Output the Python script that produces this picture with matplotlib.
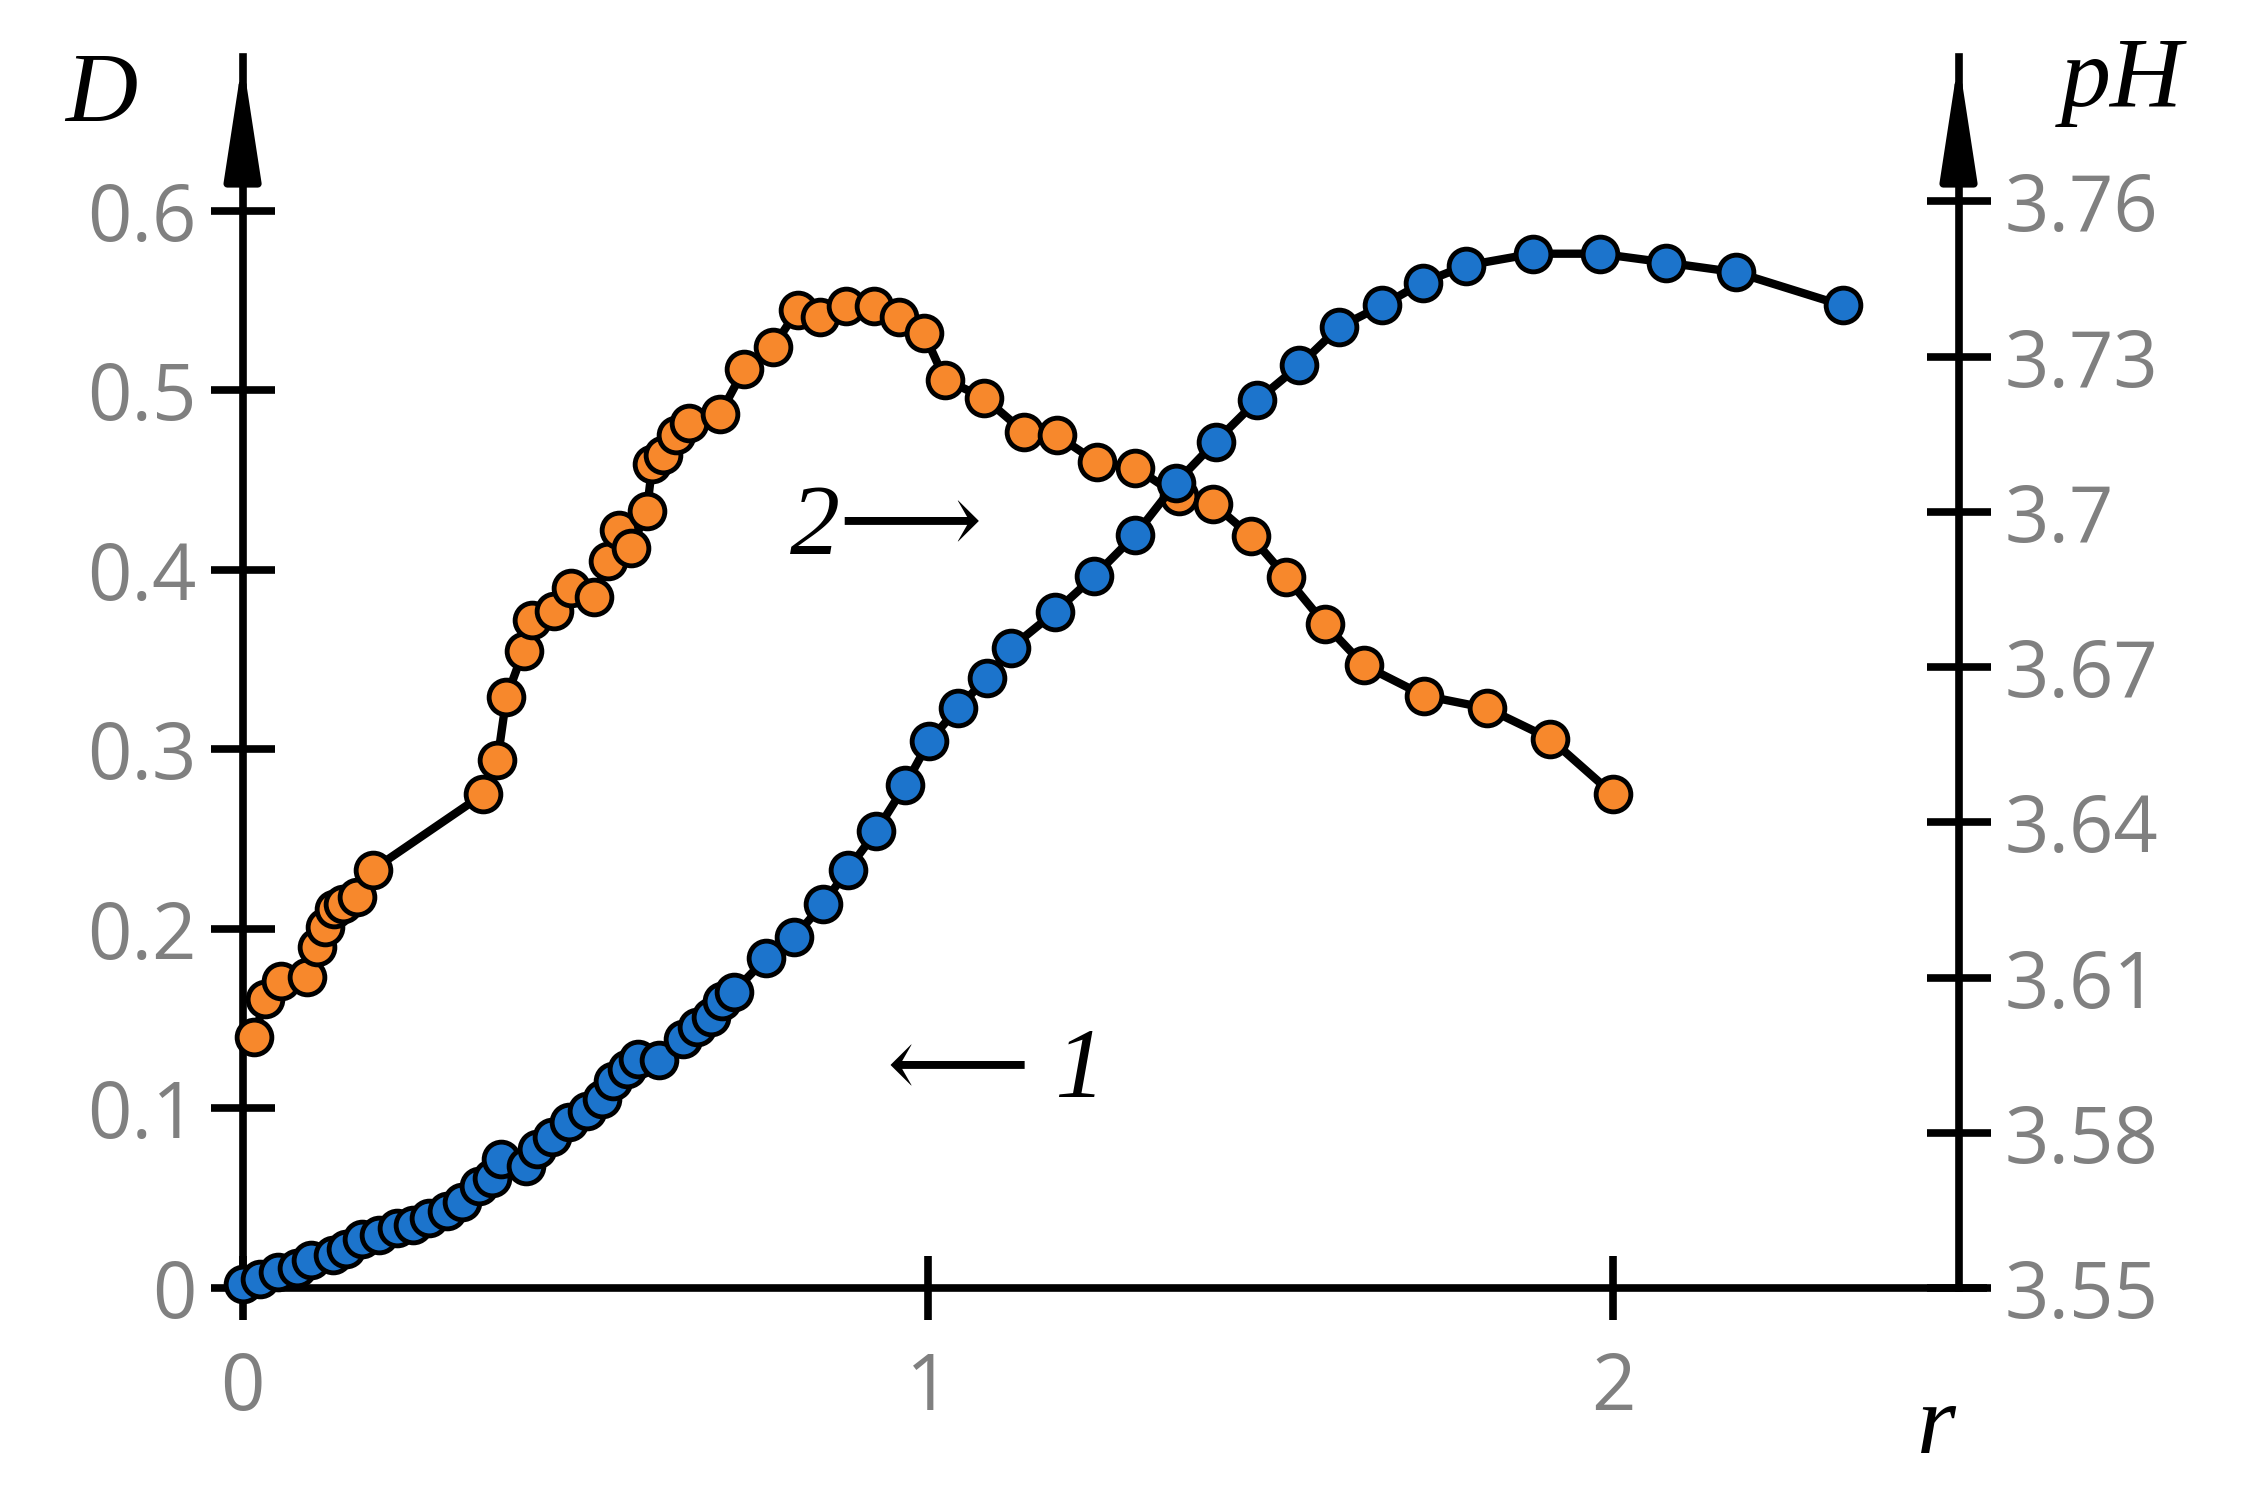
import matplotlib
matplotlib.use("Agg")
import matplotlib.pyplot as plt

r_D = [0.017,0.033,0.056,0.094,0.109,0.121,0.134,0.146,0.167,0.19,0.351,0.372,0.385,0.41,0.423,0.454,0.479,0.513,0.533,0.55,0.567,0.59,0.598,0.613,0.632,0.651,0.697,0.732,0.774,0.81,0.843,0.881,0.921,0.958,0.994,1.025,1.082,1.14,1.188,1.247,1.303,1.366,1.416,1.471,1.523,1.579,1.636,1.724,1.816,1.908,2.0]
D = [0.14,0.161,0.171,0.173,0.19,0.201,0.211,0.214,0.218,0.233,0.275,0.294,0.329,0.355,0.372,0.377,0.39,0.385,0.405,0.422,0.412,0.433,0.459,0.464,0.475,0.482,0.487,0.512,0.524,0.545,0.541,0.547,0.547,0.541,0.532,0.506,0.496,0.477,0.475,0.46,0.457,0.441,0.437,0.419,0.396,0.37,0.347,0.33,0.323,0.306,0.275]

r_pH = [0,0.025,0.052,0.079,0.100,0.132,0.151,0.174,0.199,0.226,0.249,0.272,0.299,0.320,0.345,0.364,0.377,0.414,0.429,0.452,0.477,0.502,0.525,0.540,0.561,0.577,0.607,0.642,0.663,0.684,0.700,0.717,0.764,0.805,0.847,0.883,0.925,0.967,1.002,1.044,1.086,1.121,1.186,1.243,1.303,1.362,1.420,1.481,1.542,1.600,1.663,1.722,1.785,1.883,1.981,2.077,2.180,2.335]
pH = [3.5508,3.5517,3.5530,3.5539,3.5555,3.5564,3.5575,3.5594,3.5602,3.5616,3.5622,3.5636,3.5649,3.5666,3.5697,3.5713,3.5749,3.5735,3.5768,3.5791,3.5821,3.5843,3.5865,3.5901,3.5924,3.5943,3.5940,3.5982,3.6004,3.6023,3.6054,3.6073,3.6137,3.6178,3.6242,3.6308,3.6383,3.6472,3.6557,3.6621,3.6679,3.6737,3.6807,3.6876,3.6956,3.7056,3.7136,3.7216,3.7283,3.7357,3.7399,3.7443,3.7476,3.7499,3.7499,3.7482,3.7463,3.7399]

D_ticks = [0,0.1,0.2,0.3,0.4,0.5,0.6]
D_labels = ["0","0.1","0.2","0.3","0.4","0.5","0.6"]
pH_ticks = [3.55,3.58,3.61,3.64,3.67,3.70,3.73,3.76]
pH_labels = ["3.55","3.58","3.61","3.64","3.67","3.7","3.73","3.76"]
r_ticks = [0,1,2]
r_labels = ["0","1","2"]

gray = "#808080"
orange = "#F7882C"
blue = "#1C74CC"
fs = 56

fig = plt.figure(figsize=(22.46,14.89), dpi=100)
ax = fig.add_axes([0.108, 0.135, 0.764, 0.827])
ax2 = ax.twinx()

ax.plot(r_D, D, '-o', color='black', lw=6, ms=25, mfc=orange, mec='black', mew=3.5, clip_on=False, zorder=3)
ax2.plot(r_pH, pH, '-o', color='black', lw=6, ms=25, mfc=blue, mec='black', mew=3.5, clip_on=False, zorder=3)

ax.set_xlim(0, 2.504)
ax.set_ylim(0, 0.686)
ax2.set_ylim(3.55, 3.788)

for a in (ax, ax2):
    for s in a.spines.values():
        s.set_visible(False)
    a.set_facecolor('none')

ax.spines['left'].set_visible(True); ax.spines['left'].set_linewidth(5.5)
ax2.spines['right'].set_visible(True); ax2.spines['right'].set_linewidth(5.5)
ax.plot([0, 2.545], [0, 0], color='black', lw=5.5, clip_on=False, zorder=2, solid_capstyle='butt')

ax.set_yticks(D_ticks, D_labels)
ax2.set_yticks(pH_ticks, pH_labels)
ax.set_xticks(r_ticks, r_labels)
ax.tick_params(axis='y', direction='inout', length=46, width=5.5, labelsize=fs, labelcolor=gray, pad=10)
ax2.tick_params(axis='y', direction='inout', length=46, width=5.5, labelsize=fs, labelcolor=gray, pad=10)
ax.tick_params(axis='x', direction='inout', length=46, width=5.5, labelsize=fs, labelcolor=gray, pad=22)
for lab in ax.get_yticklabels()+ax2.get_yticklabels()+ax.get_xticklabels():
    lab.set_family('Open Sans')

for x in (0, 1):
    ax.annotate('', xy=(x, 1.0), xytext=(x, 0.93), xycoords='axes fraction',
                arrowprops=dict(arrowstyle='-|>,head_length=1.3,head_width=0.2', lw=5.5, color='black', mutation_scale=55))

serif = dict(family=['Liberation Serif', 'DejaVu Serif'], style='italic', fontsize=72)
fig.text(0.045, 0.935, 'D', ha='center', va='center', **serif)
fig.text(0.945, 0.945, 'pH', ha='center', va='center', **serif)
fig.text(0.862, 0.04, 'r', ha='center', va='center', **serif)
ax.text(0.94, 0.423, '2\u27f6', ha='center', va='center', **serif)
ax.text(1.1, 0.12, '\u27f5 1', ha='center', va='center', **serif)

fig.savefig('out.png', dpi=100)
